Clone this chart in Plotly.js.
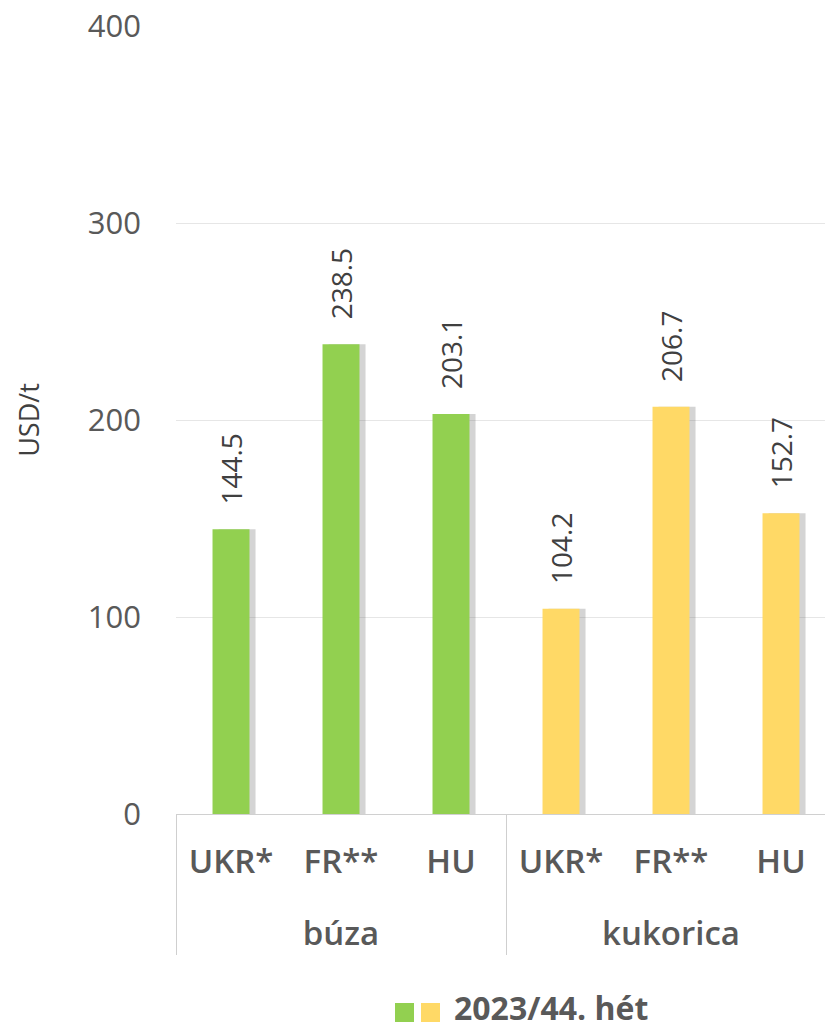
<!DOCTYPE html>
<html>
<head>
<meta charset="utf-8">
<script src="https://cdn.plot.ly/plotly-3.0.1.min.js"></script>
<style>html,body{margin:0;padding:0;background:#fff;}#chart{width:825px;height:1030px;}</style>
</head>
<body>
<div id="chart"></div>
<script>
const groups = ['búza','búza','búza','kukorica','kukorica','kukorica'];
const categories = ['UKR*','FR**','HU','UKR*','FR**','HU'];
const values = [144.5, 238.5, 203.1, 104.2, 206.7, 152.7];
const barColors = ['#92D050','#92D050','#92D050','#FFD966','#FFD966','#FFD966'];
const legendLabel = '2023/44. hét';
const yTicks = [0, 100, 200, 300, 400];

const NB = '\u00a0';
// group labels are pushed one line lower, as in the reference
const groupLabels = groups.map(g => '<br>' + g);
const xData = [groupLabels, categories];
const shadow = {
  type: 'bar', x: xData, y: values,
  width: 0.336, offset: -0.168 + 0.055,
  marker: {color: 'rgba(100,100,100,0.28)', line: {width: 0}},
  hoverinfo: 'skip', showlegend: false
};
const bars = {
  type: 'bar', x: xData, y: values,
  width: 0.336, offset: -0.168,
  marker: {color: barColors, line: {width: 0}},
  text: values.map(v => NB + NB + NB + v.toFixed(1)),
  textposition: 'outside', textangle: -90, constraintext: 'none', cliponaxis: false,
  textfont: {family: 'Open Sans', size: 28, color: '#404040'},
  showlegend: false
};

const layout = {
  width: 825, height: 1030,
  margin: {l: 176, r: 0, t: 26, b: 216},
  paper_bgcolor: '#ffffff', plot_bgcolor: '#ffffff',
  barmode: 'overlay',
  showlegend: false,
  xaxis: {
    type: 'multicategory',
    range: [-0.5, 5.4],
    showline: true, linecolor: '#d0d0d0', linewidth: 1,
    ticks: '', showgrid: false,
    ticklabelstandoff: 18,
    showdividers: true, dividercolor: '#cfcfcf', dividerwidth: 1,
    tickfont: {family: 'Open Sans', size: 33, color: '#595959', weight: 600}
  },
  yaxis: {
    range: [0, 400], tickvals: yTicks, ticktext: yTicks.map(String),
    showgrid: true, gridcolor: '#e6e6e6', gridwidth: 1,
    zeroline: false, showline: false, ticks: '',
    ticklabelstandoff: 34,
    tickfont: {family: 'Open Sans', size: 31, color: '#595959'},
    title: {text: 'USD/t', font: {family: 'Open Sans', size: 27, color: '#404040'}, standoff: 40}
  },
  shapes: [
    {type: 'rect', xref: 'paper', yref: 'paper', x0: (395-176)/649, x1: (414-176)/649, y0: (814-1022)/788, y1: (814-1003)/788, fillcolor: barColors[0], line: {width: 0}},
    {type: 'rect', xref: 'paper', yref: 'paper', x0: (421-176)/649, x1: (440-176)/649, y0: (814-1022)/788, y1: (814-1003)/788, fillcolor: barColors[3], line: {width: 0}}
  ],
  annotations: [
    {text: '<b>' + legendLabel + '</b>', xref: 'paper', yref: 'paper', x: (452-176)/649, y: (814-1008)/788,
     xanchor: 'left', yanchor: 'middle', showarrow: false,
     font: {family: 'Open Sans', size: 32, color: '#595959'}}
  ]
};

Plotly.newPlot('chart', [shadow, bars], layout, {displayModeBar: false, staticPlot: true});
</script>
</body>
</html>
